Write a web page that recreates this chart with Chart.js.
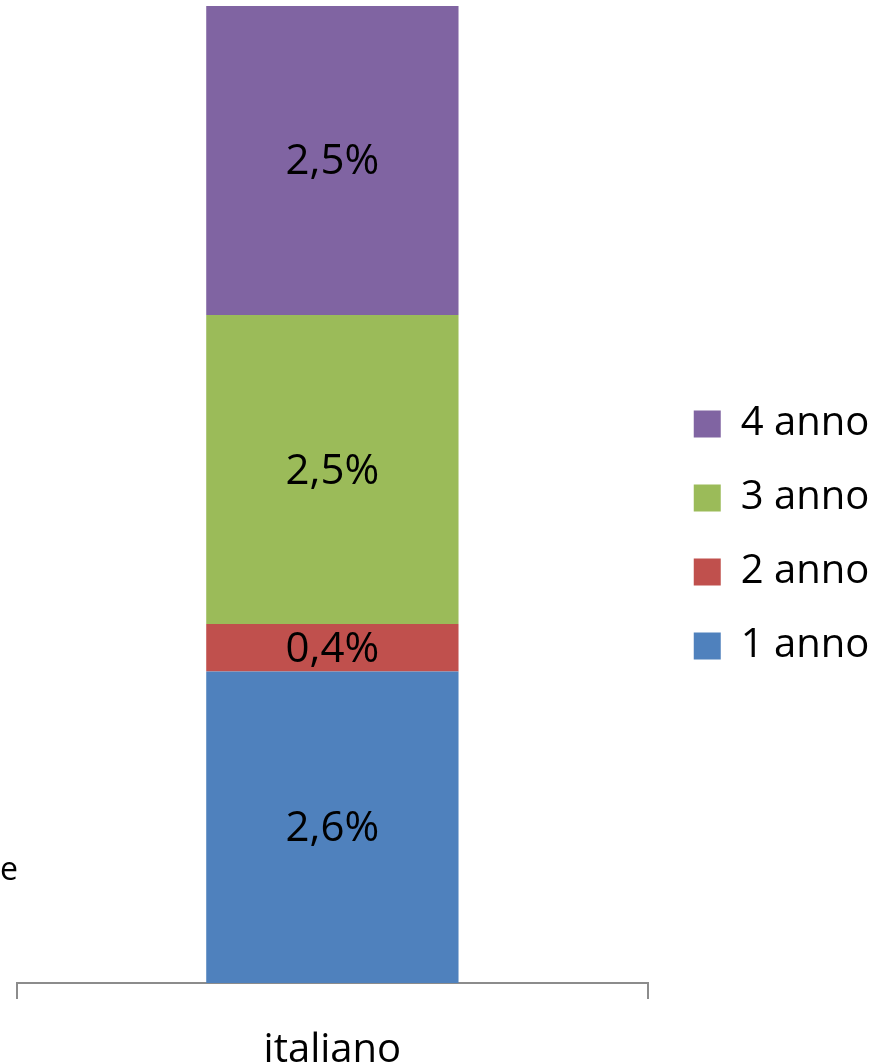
<!DOCTYPE html>
<html>
<head>
<meta charset="utf-8">
<script src="https://cdn.jsdelivr.net/npm/chart.js@4/dist/chart.umd.min.js"></script>
<style>
  html, body { margin: 0; padding: 0; background: #ffffff; }
  #wrap { position: relative; width: 886px; height: 1064px; }
</style>
</head>
<body>
<div id="wrap"><canvas id="c" width="886" height="1064"></canvas></div>
<script>
const categories = ['italiano'];
const seriesNames = ['1 anno', '2 anno', '3 anno', '4 anno'];
const anno1 = [2.56];
const anno2 = [0.39];
const anno3 = [2.54];
const anno4 = [2.54];
const seriesColors = ['#4F81BD', '#C0504D', '#9BBB59', '#8064A2'];

const seriesValues = [anno1, anno2, anno3, anno4];
const yMax = categories.map((_, i) => seriesValues.reduce((s, a) => s + a[i], 0))
  .reduce((m, v) => Math.max(m, v), 0);

const FONT = '"Open Sans", "DejaVu Sans", sans-serif';

const labelPlugin = {
  id: 'barLabels',
  afterDatasetsDraw(chart) {
    const ctx = chart.ctx;
    ctx.save();
    ctx.font = '42px ' + FONT;
    ctx.fillStyle = '#000000';
    ctx.textAlign = 'center';
    ctx.textBaseline = 'middle';
    chart.data.datasets.forEach((ds, di) => {
      const meta = chart.getDatasetMeta(di);
      meta.data.forEach((bar, i) => {
        const v = ds.data[i];
        const y = (bar.y + bar.base) / 2;
        ctx.fillText(v.toFixed(1).replace('.', ',') + '%', bar.x, y + 2);
      });
    });
    // cut-off text fragment at left edge
    ctx.font = '32px ' + FONT;
    ctx.textAlign = 'left';
    ctx.textBaseline = 'alphabetic';
    ctx.fillText('e', 0, 880);
    ctx.restore();
  }
};

new Chart(document.getElementById('c'), {
  type: 'bar',
  data: {
    labels: categories,
    datasets: seriesNames.map((n, i) => ({
      label: n,
      data: seriesValues[i],
      backgroundColor: seriesColors[i],
      borderWidth: 0,
      barPercentage: 0.4,
      categoryPercentage: 1.0
    }))
  },
  options: {
    responsive: false,
    animation: false,
    layout: { padding: { top: 6, left: 17, right: 12, bottom: 0 } },
    plugins: {
      tooltip: { enabled: false },
      legend: {
        position: 'right',
        reverse: true,
        labels: {
          font: { family: FONT, size: 40 },
          color: '#000000',
          boxWidth: 27,
          boxHeight: 27,
          padding: 34
        }
      }
    },
    scales: {
      x: {
        stacked: true,
        offset: true,
        grid: {
          offset: true,
          drawOnChartArea: false,
          drawTicks: true,
          tickLength: 16,
          color: '#8C8C8C',
          lineWidth: 2
        },
        border: { display: true, color: '#8C8C8C', width: 2 },
        ticks: {
          font: { family: FONT, size: 40 },
          color: '#000000',
          padding: 28
        },
        afterFit(scale) { scale.height = 81; }
      },
      y: {
        stacked: true,
        display: false,
        min: 0,
        max: yMax
      },
      yr: {
        position: 'right',
        display: true,
        grid: { display: false, drawTicks: false },
        border: { display: false },
        ticks: { display: false },
        afterFit(scale) { scale.width = 12; }
      }
    }
  },
  plugins: [labelPlugin]
});
</script>
</body>
</html>
